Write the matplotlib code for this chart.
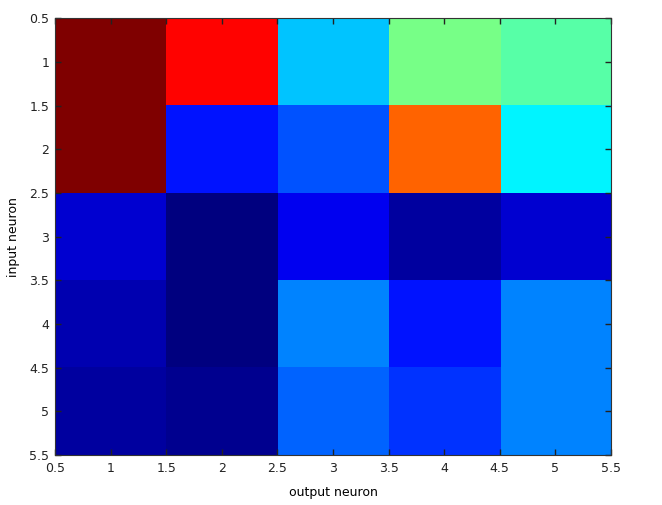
import numpy as np
import matplotlib
matplotlib.use('Agg')
import matplotlib.pyplot as plt
from matplotlib.colors import LinearSegmentedColormap

# weights, rows = input neuron 1..5, columns = output neuron 1..5
row1 = [1.00, 0.865, 0.325, 0.485, 0.458]
row2 = [0.99, 0.150, 0.208, 0.770, 0.360]
row3 = [0.080, 0.000, 0.110, 0.035, 0.090]
row4 = [0.055, 0.000, 0.250, 0.150, 0.250]
row5 = [0.035, 0.030, 0.225, 0.175, 0.250]
weights = np.array([row1, row2, row3, row4, row5])

ticks = [0.5, 1, 1.5, 2, 2.5, 3, 3.5, 4, 4.5, 5, 5.5]
tick_labels = ['0.5', '1', '1.5', '2', '2.5', '3', '3.5', '4', '4.5', '5', '5.5']

# MATLAB style jet, 64 levels
jet = LinearSegmentedColormap.from_list(
    'matlab_jet',
    [(0.0, (0, 0, 0.5)), (0.125, (0, 0, 1)), (0.375, (0, 1, 1)),
     (0.625, (1, 1, 0)), (0.875, (1, 0, 0)), (1.0, (0.5, 0, 0))],
    N=64)

fig = plt.figure(figsize=(6.62, 5.05), dpi=100)
ax = fig.add_axes([0.083, 0.099, 0.840, 0.865])
ax.imshow(weights, cmap=jet, vmin=0, vmax=1, aspect='auto',
          interpolation='nearest', extent=[0.5, 5.5, 5.5, 0.5])

ax.set_xticks(ticks)
ax.set_xticklabels(tick_labels)
ax.set_yticks(ticks)
ax.set_yticklabels(tick_labels)
ax.tick_params(direction='in', length=4, width=1, top=True, right=True,
               labelsize=9, colors='#222222')
ax.tick_params(axis='x', pad=5)
ax.tick_params(axis='y', pad=4)
for s in ax.spines.values():
    s.set_color('#333333')
ax.set_xlabel('output neuron', fontsize=9, labelpad=8)
ax.set_ylabel('input neuron', fontsize=9, labelpad=7)

fig.savefig('out.png', dpi=100)
